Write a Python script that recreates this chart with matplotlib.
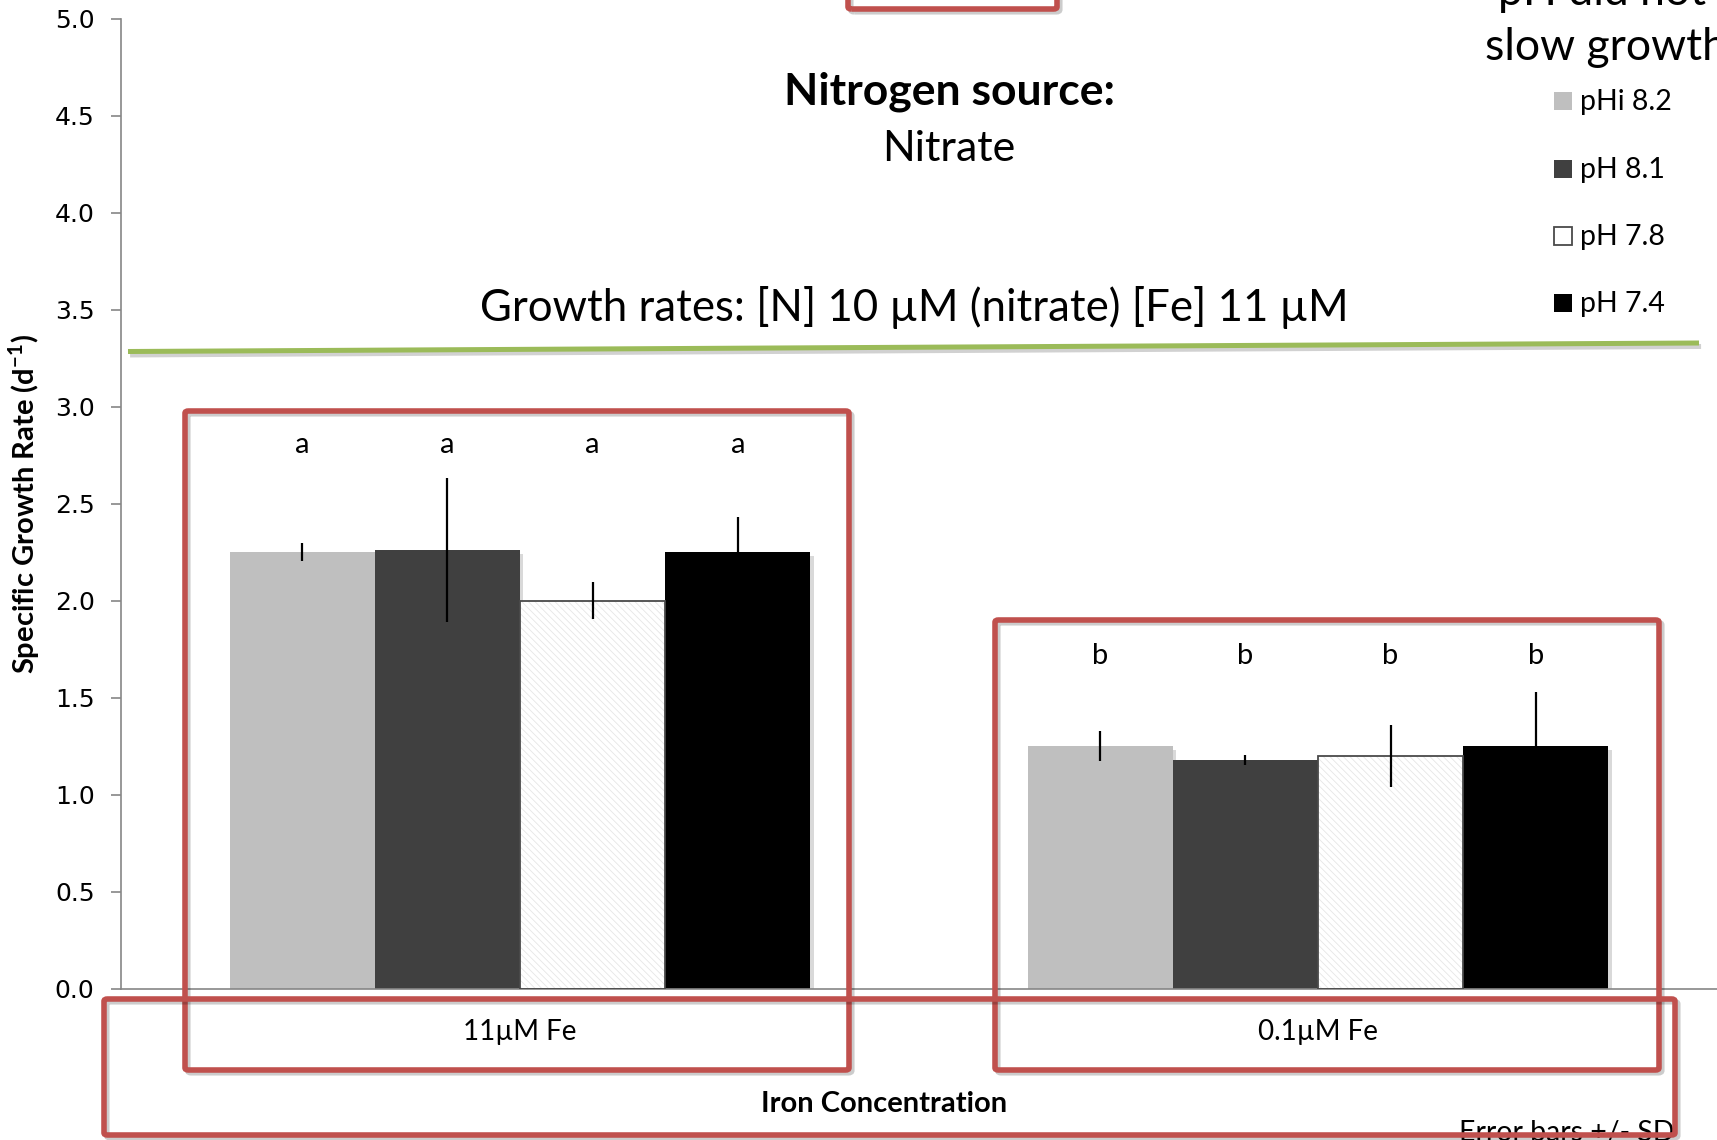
import matplotlib
matplotlib.use("Agg")
import matplotlib.pyplot as plt
import matplotlib.patheffects as pe
from matplotlib.patches import FancyBboxPatch
from matplotlib.lines import Line2D
import numpy as np

# ---- data ----
categories = ["11\u00b5M Fe", "0.1\u00b5M Fe"]
series_labels = ["pHi 8.2", "pH 8.1", "pH 7.8", "pH 7.4"]
rates_11uM = [2.25, 2.26, 2.00, 2.25]
rates_01uM = [1.25, 1.18, 1.20, 1.25]
sd_11uM = [0.045, 0.37, 0.095, 0.18]
sd_01uM = [0.077, 0.027, 0.16, 0.28]
letters_11uM = ["a", "a", "a", "a"]
letters_01uM = ["b", "b", "b", "b"]
yticks = [0.0, 0.5, 1.0, 1.5, 2.0, 2.5, 3.0, 3.5, 4.0, 4.5, 5.0]

bar_colors = ["#BFBFBF", "#404040", "#FFFFFF", "#000000"]

W, H = 1717, 1140
DPI = 100
FONT = ["Lato", "DejaVu Sans"]
plt.rcParams["font.family"] = FONT
plt.rcParams["hatch.linewidth"] = 0.6
plt.rcParams["mathtext.fontset"] = "custom"
plt.rcParams["mathtext.rm"] = "Lato"
plt.rcParams["mathtext.bf"] = "Lato:bold"

fig = plt.figure(figsize=(W / DPI, H / DPI), dpi=DPI)


def fx(x):
    return x / W


def fy(y):
    return 1 - y / H


ax = fig.add_axes([fx(121), fy(988.8), fx(1717 - 121), (988.8 - 18.6) / H])
ax.set_xlim(-0.5, 1.5)
ax.set_ylim(0, 5)

values = np.array([rates_11uM, rates_01uM])  # shape (category, series)
errors = np.array([sd_11uM, sd_01uM])
letters = [letters_11uM, letters_01uM]
x = np.arange(len(categories))
bw = 0.182
offsets = (np.arange(4) - 1.5) * bw

shadow = [pe.SimplePatchShadow(offset=(2.5, -2.5), alpha=0.15, shadow_rgbFace="#000000"), pe.Normal()]

for i, lab in enumerate(series_labels):
    xs = x + offsets[i]
    vals = values[:, i]
    if bar_colors[i] == "#FFFFFF":
        ax.bar(xs, vals, bw, color="white", edgecolor="#E6E6E6", linewidth=0,
               hatch="\\\\\\\\\\", zorder=2, path_effects=shadow)
        ax.bar(xs, vals, bw, color="none", edgecolor="#4A4A4A", linewidth=1.3,
               zorder=3)
    else:
        ax.bar(xs, vals, bw, color=bar_colors[i], linewidth=0, zorder=2,
               path_effects=shadow)
    ax.errorbar(xs, vals, yerr=errors[:, i], fmt="none", ecolor="black",
                elinewidth=1.6, capsize=0, zorder=4)
    for j in range(len(categories)):
        ly = 2.80 if j == 0 else 1.716
        ax.text(xs[j], ly, letters[j][i], ha="center", va="center",
                fontsize=21, family=FONT, zorder=5)

# axes styling
for s in ["top", "right"]:
    ax.spines[s].set_visible(False)
for s in ["left", "bottom"]:
    ax.spines[s].set_color("#868686")
    ax.spines[s].set_linewidth(1.2)
ax.set_yticks(yticks)
ax.set_yticklabels([f"{t:.1f}" for t in yticks], family="DejaVu Sans", fontsize=18)
ax.tick_params(axis="y", direction="out", length=7, width=1.2, color="#868686", pad=12)
ax.set_xticks([])

# category labels and axis titles
for j, c in enumerate(categories):
    cx = [520, 1318][j]
    fig.text(fx(cx), fy(1032), c, ha="center", va="center", fontsize=20)
fig.text(fx(884), fy(1104), "Iron Concentration", ha="center", va="center",
         fontsize=21, fontweight="bold")
fig.text(fx(24), fy(504), r"Specific Growth Rate (d$^{\mathbf{-1}}$)", ha="center", va="center",
         rotation=90, fontsize=21, fontweight="bold")

# legend
leg_rows = [102, 170, 237, 304]
for i, lab in enumerate(series_labels):
    yc = leg_rows[i]
    sq = plt.Rectangle((fx(1554), fy(yc + 8)), fx(18), 18 / H, transform=fig.transFigure,
                       facecolor=bar_colors[i],
                       edgecolor="#4A4A4A" if bar_colors[i] == "#FFFFFF" else "none",
                       linewidth=1.3)
    fig.add_artist(sq)
    fig.text(fx(1580), fy(yc), lab, ha="left", va="center", fontsize=20.5)

# headings
fig.text(fx(949), fy(92), "Nitrogen source:", ha="center", va="center",
         fontsize=32, fontweight="bold")
fig.text(fx(949), fy(149), "Nitrate", ha="center", va="center", fontsize=31)
fig.text(fx(914), fy(307), "Growth rates: [N] 10 \u00b5M (nitrate) [Fe] 11 \u00b5M",
         ha="center", va="center", fontsize=31.5)
fig.text(fx(1498), fy(5), "pH did not", ha="left", va="baseline", fontsize=32)
fig.text(fx(1485), fy(60), "slow growth", ha="left", va="baseline", fontsize=32)
fig.text(fx(1459), fy(1120), "Error bars +/- SD", ha="left", va="top", fontsize=20.5)

# green separator line
gl = Line2D([fx(128), fx(1699)], [fy(351.5), fy(343)], transform=fig.transFigure,
            color="#9BBB59", linewidth=3.6, solid_capstyle="butt",
            path_effects=[pe.SimpleLineShadow(offset=(1.5, -2.5), alpha=0.18), pe.Normal()])
fig.add_artist(gl)

# red highlight boxes (left, top, right, bottom in pixels)
boxes = [
    (848, -20, 1057, 9),
    (185, 411, 849, 1070),
    (995, 620, 1659, 1070),
    (104, 999, 1675, 1135),
]
for (l, t, r, b) in boxes:
    rect = FancyBboxPatch((fx(l), fy(b)), fx(r - l), (b - t) / H,
                          boxstyle="round,pad=0,rounding_size=0.002",
                          transform=fig.transFigure, facecolor="none",
                          edgecolor="#C0504D", linewidth=4.0, zorder=10,
                          path_effects=[pe.SimpleLineShadow(offset=(2, -2), alpha=0.2),
                                        pe.Normal()])
    fig.add_artist(rect)

fig.savefig("out.png", dpi=DPI)
